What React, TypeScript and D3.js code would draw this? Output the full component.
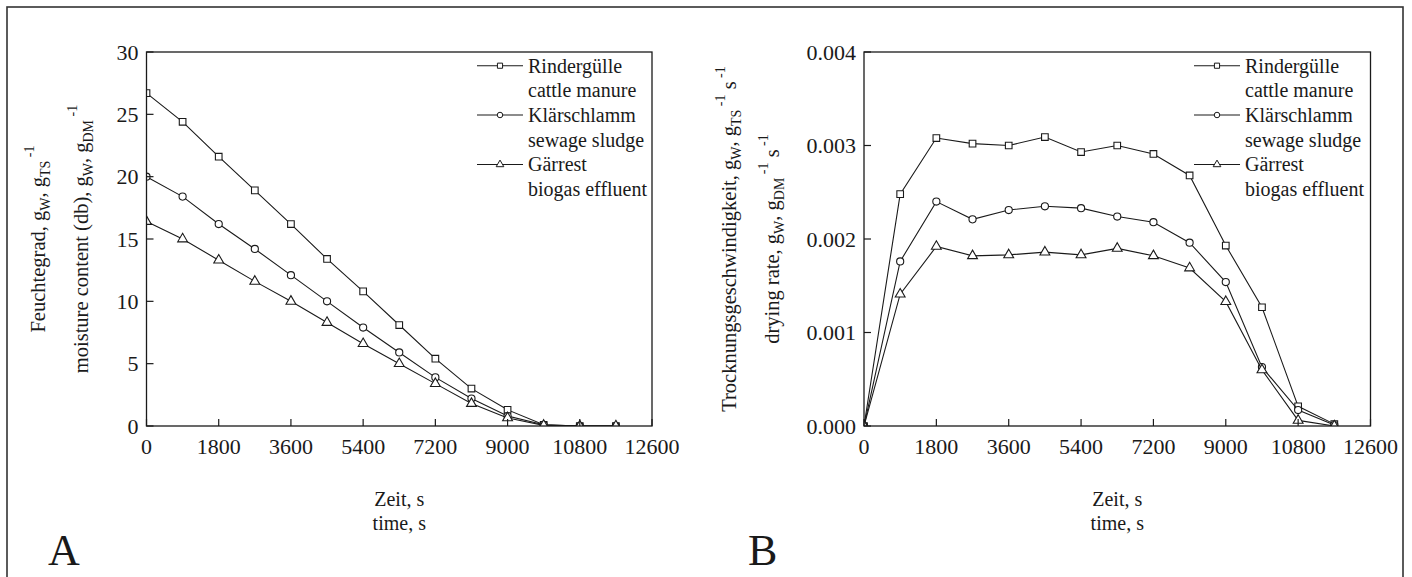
import React from "react";
import * as d3 from "d3";

const timeS = [0, 900, 1800, 2700, 3600, 4500, 5400, 6300, 7200, 8100, 9000, 9900, 10800, 11700];
const xTicks = [0, 1800, 3600, 5400, 7200, 9000, 10800, 12600];

const moistCattle = [26.7, 24.4, 21.6, 18.9, 16.2, 13.4, 10.8, 8.1, 5.4, 3.0, 1.3, 0.1, 0.0, 0.0];
const moistSludge = [20.0, 18.4, 16.2, 14.2, 12.1, 10.0, 7.9, 5.9, 3.9, 2.2, 0.8, 0.1, 0.0, 0.0];
const moistEffluent = [16.4, 15.0, 13.3, 11.6, 10.0, 8.3, 6.6, 5.0, 3.4, 1.8, 0.65, 0.05, 0.0, 0.0];
const moistTicks = [0, 5, 10, 15, 20, 25, 30];

const rateCattle = [0, 0.00248, 0.00308, 0.00302, 0.003, 0.00309, 0.00293, 0.003, 0.00291, 0.00268, 0.00193, 0.00127, 0.00021, 0.00002];
const rateSludge = [0, 0.00176, 0.0024, 0.00221, 0.00231, 0.00235, 0.00233, 0.00224, 0.00218, 0.00196, 0.00154, 0.00063, 0.00017, 0.00001];
const rateEffluent = [0, 0.00141, 0.00192, 0.00182, 0.00183, 0.00186, 0.00183, 0.0019, 0.00182, 0.00169, 0.00133, 0.0006, 0.00006, 0.0];
const rateTicks = [0, 0.001, 0.002, 0.003, 0.004];

const legendDe = ["Rindergülle", "Klärschlamm", "Gärrest"];
const legendEn = ["cattle manure", "sewage sludge", "biogas effluent"];

const FONT = "'Liberation Serif', 'Times New Roman', serif";
const INK = "#1a1a1a";

type Sym = "square" | "circle" | "triangle";
const symbols: Sym[] = ["square", "circle", "triangle"];

function symType(s: Sym) {
  return s === "square" ? d3.symbolSquare : s === "circle" ? d3.symbolCircle : d3.symbolTriangle;
}

function symPath(s: Sym, scale = 1) {
  const size = (s === "square" ? 44 : s === "circle" ? 40 : 42) * scale;
  return d3.symbol().type(symType(s)).size(size)()!;
}

type PanelProps = {
  id: string;
  x0: number;
  x1: number;
  yDomain: [number, number];
  yTicks: number[];
  yFmt: (v: number) => string;
  series: number[][];
  legendX: number;
  letter: string;
  letterX: number;
  labelX1: number;
  labelX2: number;
  label1: React.ReactNode;
  label2: React.ReactNode;
};

const yTop = 52;
const yBot = 426;

function Panel(p: PanelProps) {
  const x = d3.scaleLinear().domain([0, 12600]).range([p.x0, p.x1]);
  const y = d3.scaleLinear().domain(p.yDomain).range([yBot, yTop]);
  const line = d3
    .line<number>()
    .x((_, i) => x(timeS[i]))
    .y((v) => y(v));
  const cx = (p.x0 + p.x1) / 2;
  const cy = (yTop + yBot) / 2;
  const legendBase = [72.5, 97.2, 121.8, 146.5, 171.3, 196];
  return (
    <g>
      <defs>
        <clipPath id={p.id}>
          <rect x={p.x0} y={yTop} width={p.x1 - p.x0} height={yBot - yTop} />
        </clipPath>
      </defs>
      <g clipPath={`url(#${p.id})`}>
        {p.series.map((s, k) => (
          <g key={k}>
            <path d={line(s)!} fill="none" stroke={INK} strokeWidth={1.1} />
            {s.map((v, i) => (
              <path
                key={i}
                d={symPath(symbols[k])}
                transform={`translate(${x(timeS[i])},${y(v)})`}
                fill="white"
                stroke={INK}
                strokeWidth={1.1}
              />
            ))}
          </g>
        ))}
      </g>
      <rect x={p.x0} y={yTop} width={p.x1 - p.x0} height={yBot - yTop} fill="none" stroke={INK} strokeWidth={1.3} />
      {xTicks.map((t) => (
        <g key={t}>
          <line x1={x(t)} x2={x(t)} y1={yBot} y2={yBot - 7} stroke={INK} strokeWidth={1.2} />
          <text x={x(t)} y={454} textAnchor="middle" fontSize={22} fontFamily={FONT} fill={INK}>
            {t}
          </text>
        </g>
      ))}
      {p.yTicks.map((t) => (
        <g key={t}>
          <line x1={p.x0} x2={p.x0 + 7} y1={y(t)} y2={y(t)} stroke={INK} strokeWidth={1.2} />
          <text x={p.x0 - 8} y={y(t) + 7.5} textAnchor="end" fontSize={22} fontFamily={FONT} fill={INK}>
            {p.yFmt(t)}
          </text>
        </g>
      ))}
      <text x={cx} y={506} textAnchor="middle" fontSize={20} fontFamily={FONT} fill={INK}>
        Zeit, s
      </text>
      <text x={cx} y={530} textAnchor="middle" fontSize={20} fontFamily={FONT} fill={INK}>
        time, s
      </text>
      <text x={p.letterX} y={565} fontSize={44} fontFamily={FONT} fill={INK}>
        {p.letter}
      </text>
      <text transform={`translate(${p.labelX1},${cy}) rotate(-90)`} textAnchor="middle" fontSize={20.5} fontFamily={FONT} fill={INK}>
        {p.label1}
      </text>
      <text transform={`translate(${p.labelX2},${cy}) rotate(-90)`} textAnchor="middle" fontSize={20.5} fontFamily={FONT} fill={INK}>
        {p.label2}
      </text>
      {symbols.map((s, k) => {
        const yy = legendBase[k * 2] - 6.8;
        return (
          <g key={s}>
            <line x1={p.legendX} x2={p.legendX + 46} y1={yy} y2={yy} stroke={INK} strokeWidth={1.1} />
            <path
              d={symPath(s, 0.6)}
              transform={`translate(${p.legendX + 23},${yy})`}
              fill="white"
              stroke={INK}
              strokeWidth={1}
            />
            <text x={p.legendX + 51} y={legendBase[k * 2]} fontSize={20} fontFamily={FONT} fill={INK}>
              {legendDe[k]}
            </text>
            <text x={p.legendX + 51} y={legendBase[k * 2 + 1]} fontSize={20} fontFamily={FONT} fill={INK}>
              {legendEn[k]}
            </text>
          </g>
        );
      })}
    </g>
  );
}

const subStyle = { fontSize: 14 };

export default function App() {
  const labelA1 = (
    <>
      <tspan>Feuchtegrad, g</tspan>
      <tspan dy={5} style={subStyle}>W</tspan>
      <tspan dy={-5}>, g</tspan>
      <tspan dy={5} style={subStyle}>TS</tspan>
      <tspan dy={-16} style={subStyle}> -1</tspan>
    </>
  );
  const labelA2 = (
    <>
      <tspan>moisture content (db), g</tspan>
      <tspan dy={5} style={subStyle}>W</tspan>
      <tspan dy={-5}>, g</tspan>
      <tspan dy={5} style={subStyle}>DM</tspan>
      <tspan dy={-16} style={subStyle}> -1</tspan>
    </>
  );
  const labelB1 = (
    <>
      <tspan>Trocknungsgeschwindigkeit, g</tspan>
      <tspan dy={5} style={subStyle}>W</tspan>
      <tspan dy={-5}>, g</tspan>
      <tspan dy={5} style={subStyle}>TS</tspan>
      <tspan dy={-16} style={subStyle}> -1</tspan>
      <tspan dy={11}> s</tspan>
      <tspan dy={-11} style={subStyle}> -1</tspan>
    </>
  );
  const labelB2 = (
    <>
      <tspan>drying rate, g</tspan>
      <tspan dy={5} style={subStyle}>W</tspan>
      <tspan dy={-5}>, g</tspan>
      <tspan dy={5} style={subStyle}>DM</tspan>
      <tspan dy={-16} style={subStyle}> -1</tspan>
      <tspan dy={11}> s</tspan>
      <tspan dy={-11} style={subStyle}> -1</tspan>
    </>
  );
  return (
    <svg
      width={1412}
      height={577}
      style={{ position: "absolute", left: 0, top: 0, background: "white" }}
    >
      <rect x={0} y={0} width={1412} height={577} fill="white" />
      <rect x={7} y={7} width={1396} height={600} fill="none" stroke="#333" strokeWidth={1.6} />
      <Panel
        id="clipA"
        x0={146.5}
        x1={652}
        yDomain={[0, 30]}
        yTicks={moistTicks}
        yFmt={(v) => String(v)}
        series={[moistCattle, moistSludge, moistEffluent]}
        legendX={477}
        letter="A"
        letterX={48}
        labelX1={45}
        labelX2={88}
        label1={labelA1}
        label2={labelA2}
      />
      <Panel
        id="clipB"
        x0={864}
        x1={1370.5}
        yDomain={[0, 0.004]}
        yTicks={rateTicks}
        yFmt={(v) => d3.format(".3f")(v)}
        series={[rateCattle, rateSludge, rateEffluent]}
        legendX={1194}
        letter="B"
        letterX={748}
        labelX1={736}
        labelX2={779}
        label1={labelB1}
        label2={labelB2}
      />
    </svg>
  );
}
